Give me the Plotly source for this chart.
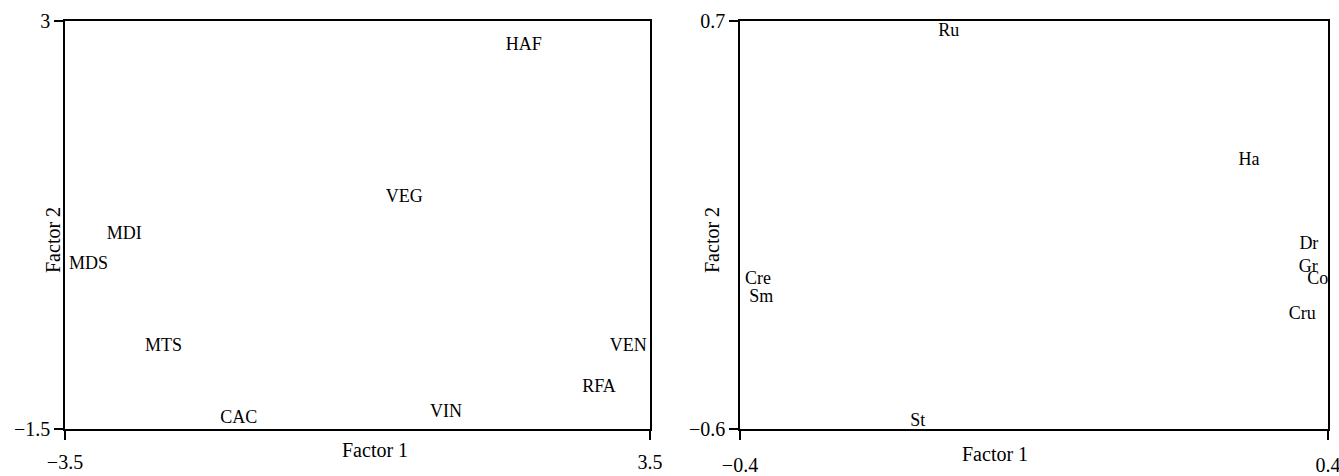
import plotly.graph_objects as go

# Left panel data
left_labels = ["HAF", "VEG", "MDI", "MDS", "MTS", "VEN", "RFA", "VIN", "CAC"]
left_f1 = [1.99, 0.56, -2.79, -3.22, -2.32, 3.24, 2.89, 1.06, -1.42]
left_f2 = [2.73, 1.05, 0.645, 0.31, -0.59, -0.59, -1.04, -1.32, -1.38]
left_xticks = [-3.5, 3.5]
left_yticks = [-1.5, 3]

# Right panel data
right_labels = ["Ru", "Ha", "Dr", "Gr", "Co", "Cru", "Cre", "Sm", "St"]
right_f1 = [-0.116, 0.2925, 0.374, 0.373, 0.386, 0.365, -0.3755, -0.371, -0.158]
right_f2 = [0.668, 0.256, -0.013, -0.086, -0.124, -0.235, -0.124, -0.181, -0.575]
right_xticks = [-0.4, 0.4]
right_yticks = [-0.6, 0.7]

FONT = "Liberation Serif"
lsize = 18
tsize = 20

fig = go.Figure()
fig.add_trace(go.Scatter(x=left_f1, y=left_f2, text=left_labels, mode="text",
                         textfont=dict(family=FONT, size=lsize, color="black"),
                         xaxis="x", yaxis="y", showlegend=False, hoverinfo="skip"))
fig.add_trace(go.Scatter(x=right_f1, y=right_f2, text=right_labels, mode="text",
                         textfont=dict(family=FONT, size=lsize, color="black"),
                         xaxis="x2", yaxis="y2", showlegend=False, hoverinfo="skip"))

ax_common = dict(showline=True, linecolor="black", linewidth=1.5, mirror=True,
                 showgrid=False, zeroline=False, ticks="outside", ticklen=9,
                 tickwidth=1.5, tickcolor="black", automargin=False,
                 ticklabeloverflow="allow",
                 tickfont=dict(family=FONT, size=tsize, color="black"))

ytop = 1 - 21 / 476
ybot = 1 - 429 / 476

fig.update_layout(
    width=1339, height=476,
    margin=dict(l=0, r=0, t=0, b=0),
    paper_bgcolor="white", plot_bgcolor="white",
    xaxis=dict(domain=[65 / 1339, 650 / 1339], range=[-3.5, 3.5], tickvals=left_xticks,
               ticklabelstandoff=5, anchor="y", **ax_common),
    yaxis=dict(domain=[ybot, ytop], range=[-1.5, 3], tickvals=left_yticks,
               ticklabelstandoff=0, anchor="x", **ax_common),
    xaxis2=dict(domain=[740 / 1339, 1328 / 1339], range=[-0.4, 0.4], tickvals=right_xticks,
                ticklabelstandoff=8, anchor="y2", **ax_common),
    yaxis2=dict(domain=[ybot, ytop], range=[-0.6, 0.7], tickvals=right_yticks,
                ticklabelstandoff=0, anchor="x2", **ax_common),
)

ann_font = dict(family=FONT, size=tsize, color="black")
fig.add_annotation(text="Factor 1", x=340 / 1339, y=1 - 463 / 476, xref="paper", yref="paper",
                   showarrow=False, font=ann_font)
fig.add_annotation(text="Factor 2", x=40 / 1339, y=1 - 240 / 476, xref="paper", yref="paper",
                   showarrow=False, font=ann_font, textangle=-90)
fig.add_annotation(text="Factor 1", x=1030 / 1339, y=1 - 467 / 476, xref="paper", yref="paper",
                   showarrow=False, font=ann_font)
fig.add_annotation(text="Factor 2", x=712 / 1339, y=1 - 240 / 476, xref="paper", yref="paper",
                   showarrow=False, font=ann_font, textangle=-90)

fig.write_html("out.html")
